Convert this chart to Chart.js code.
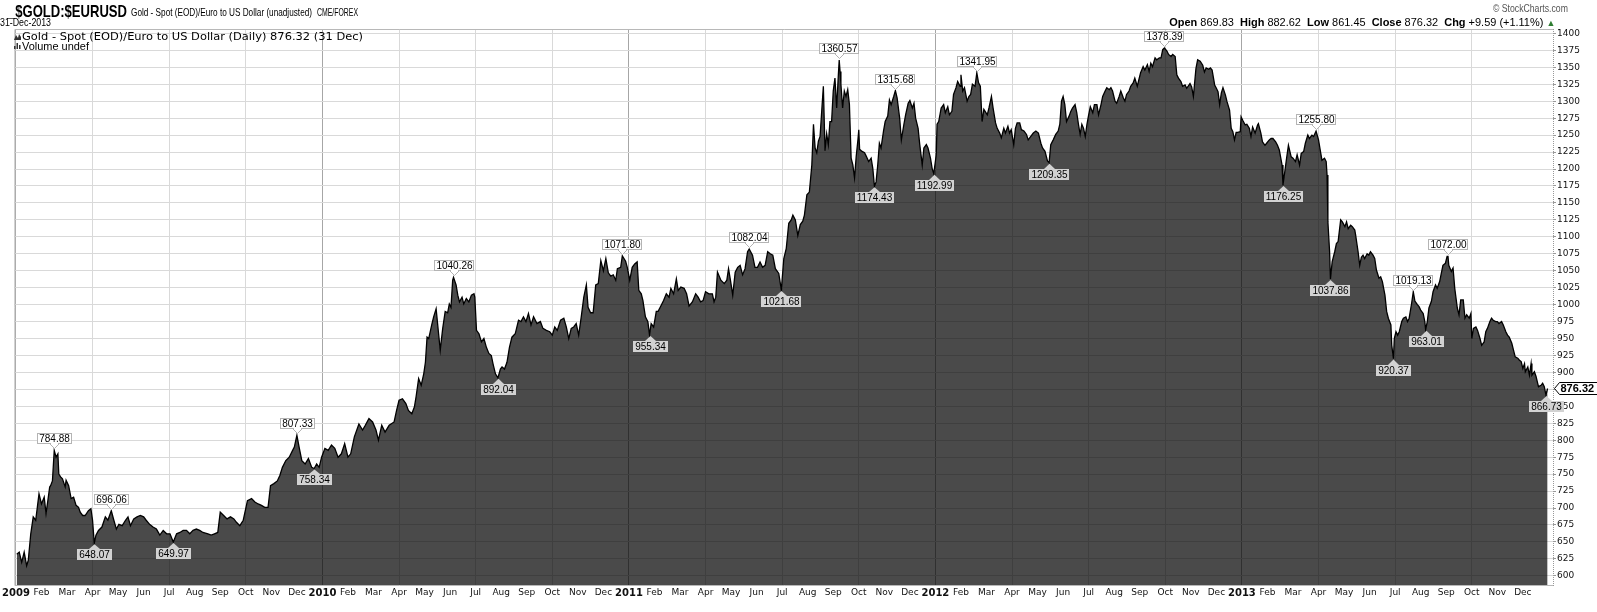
<!DOCTYPE html>
<html><head><meta charset="utf-8">
<script src="https://cdn.jsdelivr.net/npm/chart.js@4.4.0/dist/chart.umd.min.js"></script>
<style>
html,body{margin:0;padding:0;background:#fff;}
#wrap{position:relative;width:1597px;height:612px;overflow:hidden;background:#fff;}
#c{position:absolute;left:0;top:0;}
.t{position:absolute;white-space:nowrap;color:#000;font-family:"Liberation Sans",Arial,sans-serif;line-height:1;}
.n{font-family:"Liberation Sans Narrow","Liberation Sans",Arial,sans-serif;}
.l{transform-origin:left center;}
.r{transform-origin:right center;}
.t b{font-weight:bold;}
</style></head><body>
<div id="wrap">
<canvas id="c" width="1597" height="612"></canvas>
<div class="t l n" id="sym" style="left:8px;top:3px;font-size:17px;font-weight:bold;">_$GOLD:$EURUSD</div>
<div class="t l" id="desc" style="left:131px;top:7px;font-size:11px;">Gold - Spot (EOD)/Euro to US Dollar (unadjusted)</div>
<div class="t l" id="exch" style="left:317px;top:8px;font-size:10px;">CME/FOREX</div>
<div class="t l" id="date" style="left:0px;top:18px;font-size:10px;">31-Dec-2013</div>
<svg style="position:absolute;left:14px;top:33px" width="8" height="8"><path d="M0 7 L2 2 L4 5 L5 1 L7 4 L7 7 Z" fill="#333"/></svg>
<div class="t l" id="leg" style="left:22px;top:31px;font-size:10.5px;font-family:'DejaVu Sans',sans-serif;">Gold - Spot (EOD)/Euro to US Dollar (Daily) 876.32 (31 Dec)</div>
<svg style="position:absolute;left:14px;top:42px" width="8" height="8"><path d="M0 7 V4 H1.5 V7 Z M2.5 7 V1 H4 V7 Z M5 7 V3 H6.5 V7 Z" fill="#333"/></svg>
<div class="t l" id="vol" style="left:22px;top:41px;font-size:11px;">Volume undef</div>
<div class="t r" id="copy" style="right:29px;top:3px;font-size:11px;color:#555;">&copy; StockCharts.com</div>
<div class="t r" id="ohlc" style="right:42px;top:17px;font-size:11px;"><b>Open</b> 869.83&nbsp; <b>High</b> 882.62&nbsp; <b>Low</b> 861.45&nbsp; <b>Close</b> 876.32&nbsp; <b>Chg</b> +9.59 (+1.11%) <span style="color:#2e7d32;font-size:9px;">&#9650;</span></div>
</div>
<script>
// ---------- DATA ----------
const monthNames = ['Jan','Feb','Mar','Apr','May','Jun','Jul','Aug','Sep','Oct','Nov','Dec'];
const yTicks = [600,625,650,675,700,725,750,775,800,825,850,875,900,925,950,975,1000,1025,1050,1075,1100,1125,1150,1175,1200,1225,1250,1275,1300,1325,1350,1375,1400];

const dates2009 = ['01-02','01-05','01-08','01-11','01-14','01-16','01-19','01-22','01-25','01-29',
 '02-01','02-04','02-06','02-08','02-10','02-11','02-13','02-15','02-17','02-19','02-20','02-22','02-24','02-27','02-28',
 '03-03','03-06','03-09','03-12','03-15','03-17','03-20','03-23','03-27','03-30',
 '04-01','04-03','04-05','04-08','04-12','04-16','04-19','04-23','04-26','04-29',
 '05-02','05-06','05-10','05-13','05-16','05-20','05-24','05-28',
 '06-01','06-04','06-08','06-12','06-16','06-20','06-24','06-28',
 '07-02','07-06','07-10','07-14','07-18','07-22','07-26','07-30',
 '08-03','08-07','08-11','08-17','08-21','08-25','08-29',
 '09-01','09-05','09-09','09-13','09-17','09-20','09-24','09-28',
 '10-03','10-08','10-12','10-16','10-20','10-24','10-28','10-31',
 '11-04','11-08','11-11','11-14','11-18','11-22','11-26','11-28',
 '12-01','12-04','12-07','12-11','12-15','12-19','12-22','12-25','12-28','12-31'];
const values2009 = [632,635,620,635,615,623,662,687,682,721,
 706,716,692,711,731,733,740,784.88,775,780,750,746,743,731,741,
 733,714,716,704,701,694,689,689,696,699,
 682,648.07,660,667,672,687,682,696.06,682,669,
 676,674,682,687,674,684,687,689,
 687,682,676,672,669,660,667,662,
 662,649.97,662,664,667,667,662,667,
 669,667,664,662,660,662,664,
 694,689,684,687,684,679,674,682,
 711,714,709,706,704,701,701,733,
 736,740,748,760,770,775,785,790,
 807.33,788,770,765,773,760,758.34,765,760,775];

const dates2010 = ['01-04','01-08','01-12','01-16','01-20','01-24','01-28',
 '02-01','02-04','02-08','02-13','02-17','02-20','02-24','02-28',
 '03-04','03-07','03-11','03-15','03-20','03-26','03-29',
 '04-01','04-05','04-09','04-12','04-16','04-19','04-21','04-24','04-27','04-30',
 '05-02','05-04','05-06','05-10','05-12','05-15','05-18','05-20','05-23','05-26','05-29','05-31',
 '06-02','06-04','06-05','06-08','06-10','06-12','06-15','06-17','06-20','06-23','06-26','06-29','06-30',
 '07-02','07-05','07-08','07-11','07-14','07-17','07-20','07-22','07-25','07-28','07-31',
 '08-02','08-05','08-08','08-11','08-14','08-18','08-22','08-25','08-28','08-31',
 '09-03','09-06','09-09','09-13','09-17','09-20','09-24','09-28',
 '10-01','10-04','10-07','10-11','10-15','10-18','10-21','10-24','10-27','10-30',
 '11-02','11-05','11-08','11-11','11-13','11-16','11-19','11-22','11-25','11-28',
 '12-01','12-04','12-07','12-10','12-13','12-16','12-18','12-22','12-24','12-28','12-30'];
const values2010 = [788,785,793,788,775,780,795,
 775,780,805,824,815,822,832,827,
 815,800,822,812,822,827,844,
 859,861,854,844,839,849,864,891,881,898,
 915,952,950,972,982,994,957,933,965,990,988,1001,
 996,1036,1040.26,1029,1014,1004,1011,1001,1009,1004,1014,1016,1011,
 962,957,945,950,937,928,925,913,898,892.04,905,
 908,905,915,937,952,957,977,975,982,975,
 987,970,982,972,975,965,962,960,
 955,967,962,977,980,967,950,965,967,972,
 955,982,1011,1029,996,988,988,1029,1031,1065,
 1050,1068,1047,1042,1044,1036,1053,1055,1071.80,1064,1055];

const dates2011 = ['01-02','01-05','01-08','01-11','01-13','01-16','01-18','01-21','01-24','01-26','01-28','01-31',
 '02-03','02-05','02-08','02-11','02-14','02-17','02-19','02-22','02-25','02-27',
 '03-02','03-06','03-09','03-12','03-16','03-20','03-23','03-26','03-29',
 '04-01','04-05','04-09','04-11','04-13','04-15','04-19','04-23','04-26','04-28','04-30',
 '05-03','05-06','05-09','05-12','05-15','05-18','05-21','05-23','05-27','05-30',
 '06-02','06-05','06-08','06-11','06-14','06-17','06-20','06-23','06-27','06-30',
 '07-03','07-06','07-09','07-12','07-14','07-17','07-20','07-23','07-26','07-28','07-31',
 '08-03','08-06','08-08','08-10','08-12','08-14','08-16','08-18','08-20','08-22','08-24','08-26','08-28','08-30',
 '09-01','09-03','09-05','09-07','09-08','09-09','09-10','09-12','09-14','09-16','09-18','09-20','09-22','09-24','09-26','09-28','09-30',
 '10-01','10-02','10-05','10-08','10-10','10-13','10-16','10-18','10-20','10-22','10-24','10-26','10-28','10-31',
 '11-02','11-05','11-07','11-09','11-12','11-14','11-16','11-19','11-21','11-24','11-26','11-29',
 '12-01','12-04','12-06','12-08','12-11','12-13','12-16','12-18','12-21','12-23','12-26','12-28','12-30'];
const values2011 = [1036,1055,1060,1063,1021,1016,1006,982,975,955.34,972,967,
 990,990,998,1006,1016,1011,1024,1016,1038,1021,
 1026,1024,1016,998,1004,1016,1011,1004,1006,
 1019,1016,1016,1004,1011,1048,1036,1031,1036,1053,1038,
 1014,1048,1055,1058,1044,1053,1078,1082.04,1073,1055,
 1055,1063,1055,1058,1078,1075,1073,1053,1046,1021.68,
 1068,1083,1120,1125,1132,1125,1102,1118,1123,1132,1162,
 1166,1206,1266,1231,1224,1241,1248,1285,1322,1227,1252,1236,1270,1270,
 1315,1334,1290,1339,1360.57,1344,1325,1290,1315,1307,1317,1295,1216,1206,1187,1219,1243,
 1258,1229,1226,1224,1219,1211,1216,1201,1174.43,1181,1206,1238,1231,1256,
 1270,1278,1302,1295,1307,1315.68,1305,1275,1243,1266,1280,1297,
 1301,1290,1297,1275,1260,1236,1206,1231,1236,1231,1216,1201,1192.99];

const dates2012 = ['01-02','01-03','01-05','01-08','01-11','01-13','01-16','01-18','01-21','01-23','01-26','01-28','01-31',
 '02-01','02-03','02-05','02-08','02-10','02-12','02-14','02-17','02-19','02-21','02-23','02-25','02-27',
 '03-02','03-04','03-07','03-09','03-12','03-14','03-17','03-19','03-22','03-24','03-27','03-29','03-31',
 '04-03','04-05','04-07','04-10','04-12','04-15','04-18','04-20','04-23','04-26','04-29',
 '05-02','05-05','05-07','05-10','05-13','05-15','05-17','05-20','05-23','05-26','05-28','05-30',
 '06-01','06-03','06-05','06-08','06-10','06-12','06-15','06-17','06-19','06-21','06-23','06-25','06-27','06-29',
 '07-01','07-03','07-06','07-08','07-11','07-13','07-16','07-18','07-21','07-23','07-26','07-28','07-30',
 '08-02','08-04','08-07','08-09','08-12','08-14','08-16','08-19','08-21','08-24','08-26','08-29','08-31',
 '09-02','09-05','09-07','09-10','09-12','09-14','09-16','09-19','09-21','09-24','09-26','09-28','09-30',
 '10-03','10-05','10-08','10-10','10-13','10-15','10-17','10-20','10-22','10-25','10-27','10-31',
 '11-02','11-04','11-07','11-09','11-12','11-15','11-17','11-19','11-22','11-24','11-26','11-29',
 '12-01','12-03','12-05','12-07','12-09','12-12','12-14','12-17','12-19','12-21','12-23','12-25','12-27','12-30','12-31'];
const values2012 = [1221,1266,1270,1290,1295,1283,1292,1280,1285,1310,1320,1329,1322,
 1339,1315,1320,1300,1307,1310,1325,1322,1341.95,1327,1322,1270,1288,
 1280,1290,1307,1290,1268,1260,1253,1246,1260,1253,1263,1253,1258,
 1236,1260,1268,1268,1258,1256,1251,1243,1248,1253,1256,
 1253,1238,1231,1226,1212,1209.35,1236,1243,1251,1256,1266,1300,
 1307,1295,1270,1278,1285,1290,1295,1283,1266,1251,1266,1260,1248,1266,
 1280,1292,1283,1295,1295,1280,1295,1307,1315,1320,1317,1320,1315,
 1300,1297,1307,1315,1305,1300,1310,1315,1322,1327,1334,1322,1332,
 1342,1351,1346,1354,1344,1356,1351,1364,1361,1364,1364,1376,1378.39,
 1374,1369,1366,1369,1366,1339,1334,1329,1322,1324,1319,1326,
 1321,1307,1348,1361,1359,1353,1343,1349,1347,1349,1346,1324,
 1319,1314,1295,1312,1320,1309,1299,1287,1260,1255,1243,1254,1254,1255,1277];

const dates2013 = ['01-02','01-05','01-07','01-10','01-12','01-14','01-17','01-20','01-21','01-24','01-26','01-29','01-31',
 '02-03','02-05','02-07','02-10','02-12','02-14','02-17','02-18','02-20','02-22','02-24','02-27',
 '03-01','03-04','03-06','03-09','03-11','03-14','03-16','03-19','03-21','03-24','03-26','03-29',
 '04-01','04-03','04-05','04-08','04-10','04-11','04-12','04-14','04-15','04-17','04-20','04-22','04-24','04-27','04-29',
 '05-02','05-04','05-06','05-09','05-11','05-14','05-15','05-18','05-20','05-22','05-24','05-26','05-29','05-31',
 '06-02','06-05','06-07','06-09','06-12','06-14','06-16','06-19','06-21','06-23','06-26','06-27','06-29','06-30',
 '07-02','07-04','07-06','07-09','07-11','07-14','07-16','07-18','07-21','07-23','07-25','07-28','07-30',
 '08-01','08-04','08-06','08-07','08-09','08-11','08-14','08-16','08-19','08-21','08-24','08-26','08-28','08-31',
 '09-02','09-03','09-04','09-07','09-09','09-11','09-14','09-16','09-18','09-21','09-23','09-25','09-28','09-30',
 '10-01','10-03','10-06','10-08','10-11','10-13','10-16','10-18','10-20','10-23','10-25','10-27','10-30',
 '11-01','11-03','11-06','11-08','11-11','11-13','11-15','11-18','11-20','11-22','11-25','11-27','11-29',
 '12-01','12-03','12-04','12-07','12-09','12-11','12-12','12-15','12-17','12-19','12-20','12-23','12-25','12-27','12-29','12-31'];
const values2013 = [1272,1265,1266,1260,1248,1262,1253,1265,1267,1253,1240,1235,1238,
 1243,1245,1245,1240,1235,1228,1206,1176.25,1196,1216,1235,1218,
 1216,1211,1221,1206,1223,1226,1238,1250,1245,1250,1248,1255.80,
 1243,1228,1213,1216,1211,1191,1122,1078,1037.86,1063,1078,1090,1093,1125,1122,
 1115,1122,1112,1117,1115,1110,1103,1078,1058,1070,1073,1068,1075,1073,
 1078,1073,1068,1051,1039,1041,1034,1014,990,980,970,940,920.37,950,
 960,955,960,975,980,982,975,980,1002,1019.13,1005,1000,997,
 992,987,975,963.01,975,995,1005,1019,1029,1024,1034,1046,1058,1061,
 1071,1072.00,1058,1049,1054,1024,995,985,1007,1007,980,985,980,987,
 950,965,967,962,950,940,945,960,965,975,980,977,975,
 975,972,975,970,960,955,952,943,933,923,921,918,916,
 906,913,901,908,896,913,896,901,894,884,879,881,884,879,866.73,876.32];

// labelled highs and lows
const peakDates   = ['2009-02-15','2009-04-23','2009-12-01','2010-06-05','2010-12-24','2011-05-23','2011-09-08','2011-11-14','2012-02-19','2012-09-30','2013-03-29','2013-07-23','2013-09-03'];
const peakValues  = [784.88,696.06,807.33,1040.26,1071.80,1082.04,1360.57,1315.68,1341.95,1378.39,1255.80,1019.13,1072.00];
const troughDates = ['2009-04-03','2009-07-06','2009-12-22','2010-07-28','2011-01-26','2011-06-30','2011-10-20','2011-12-30','2012-05-15','2013-02-18','2013-04-15','2013-06-29','2013-08-07','2013-12-29'];
const troughValues= [648.07,649.97,758.34,892.04,955.34,1021.68,1174.43,1192.99,1209.35,1176.25,1037.86,920.37,963.01,866.73];

// ---------- build ----------
function monthPos(iso){
  const p = iso.split('-').map(Number);
  const dim = new Date(p[0], p[1], 0).getDate();
  return (p[0]-2009)*12 + (p[1]-1) + (p[2]-1)/dim;
}
const years = [[2009,dates2009,values2009],[2010,dates2010,values2010],[2011,dates2011,values2011],[2012,dates2012,values2012],[2013,dates2013,values2013]];
const points = [];
years.forEach(([yr, ds, vs]) => ds.forEach((md, i) => points.push({x: monthPos(yr + '-' + md), y: vs[i]})));

const FONT = "'DejaVu Sans', sans-serif";

const chrome = {
  id: 'chrome',
  beforeDraw(chart){
    const c = chart.ctx; c.save(); c.fillStyle = '#fff'; c.fillRect(0,0,chart.width,chart.height); c.restore();
  },
  afterDatasetsDraw(chart){
    const c = chart.ctx, a = chart.chartArea, xs = chart.scales.x, ys = chart.scales.y;
    c.save();
    // plot frame
    c.strokeStyle = '#b8b8b8'; c.lineWidth = 1;
    c.beginPath();
    c.moveTo(a.right + 0.5, a.top + 0.5); c.lineTo(a.left + 0.5, a.top + 0.5);
    c.lineTo(a.left + 0.5, a.bottom + 0.5); c.lineTo(a.right + 0.5, a.bottom + 0.5);
    c.stroke();
    c.setLineDash([1,1]); c.strokeStyle = '#999';
    c.beginPath(); c.moveTo(a.right + 0.5, a.top); c.lineTo(a.right + 0.5, a.bottom + 1); c.stroke();
    c.setLineDash([]);

    c.font = "10px 'Liberation Sans', Arial, sans-serif";
    c.textAlign = 'center'; c.textBaseline = 'middle';
    const H = 11;
    peakDates.forEach((d, i) => {
      const v = peakValues[i], t = v.toFixed(2);
      const x = Math.round(xs.getPixelForValue(monthPos(d))), y = ys.getPixelForValue(v);
      const w = Math.round(c.measureText(t).width) + 4;
      const by = Math.round(y - 6), bx = Math.round(x - w/2);
      c.fillStyle = '#fff'; c.strokeStyle = '#b4b4b4';
      c.beginPath(); c.moveTo(x - 4.5, by - 0.5); c.lineTo(x + 0.5, by + 4.5); c.lineTo(x + 5.5, by - 0.5); c.closePath();
      c.fill(); c.stroke();
      c.fillRect(bx, by - H, w, H); c.strokeRect(bx + 0.5, by - H + 0.5, w - 1, H - 1);
      c.fillStyle = '#fff'; c.fillRect(x - 3, by - 1, 7, 2);
      c.fillStyle = '#000'; c.fillText(t, x + 0.5, by - H/2 + 0.5);
    });
    troughDates.forEach((d, i) => {
      const v = troughValues[i], t = v.toFixed(2);
      const x = Math.round(xs.getPixelForValue(monthPos(d))), y = ys.getPixelForValue(v);
      const w = Math.round(c.measureText(t).width) + 4;
      const ty = Math.round(y + 6), bx = Math.round(x - w/2);
      c.fillStyle = '#d2d2d2';
      c.beginPath(); c.moveTo(x - 5, ty); c.lineTo(x + 0.5, y + 1); c.lineTo(x + 6, ty); c.closePath(); c.fill();
      c.fillRect(bx, ty, w, H);
      c.fillStyle = '#000'; c.fillText(t, x + 0.5, ty + H/2 + 0.5);
    });

    // last value marker on the right axis
    const last = points[points.length - 1].y;
    const ly = Math.round(ys.getPixelForValue(last)) + 0.5, lx = a.right + 1.5;
    c.font = "bold 11px 'Liberation Sans', Arial, sans-serif";
    const lw = c.measureText(last.toFixed(2)).width + 5;
    c.fillStyle = '#fff'; c.strokeStyle = '#000'; c.lineWidth = 1;
    c.beginPath(); c.moveTo(lx, ly); c.lineTo(lx + 5, ly - 6); c.lineTo(lx + 5 + lw, ly - 6);
    c.lineTo(lx + 5 + lw, ly + 6); c.lineTo(lx + 5, ly + 6); c.closePath(); c.fill(); c.stroke();
    c.fillStyle = '#000'; c.textAlign = 'left'; c.fillText(last.toFixed(2), lx + 6, ly + 0.5);
    c.restore();
  }
};

const chart = new Chart(document.getElementById('c'), {
  type: 'line',
  data: { datasets: [{
    data: points,
    borderColor: '#000', borderWidth: 1.3,
    backgroundColor: 'rgba(0,0,0,0.71)',
    fill: 'start', pointRadius: 0, tension: 0
  }]},
  options: {
    responsive: false, animation: false, devicePixelRatio: 1,
    layout: { padding: { left: 13, top: 29, right: 0, bottom: 0 } },
    plugins: { legend: { display: false }, tooltip: { enabled: false } },
    scales: {
      x: {
        type: 'linear', min: -0.06, max: 60.18,
        afterBuildTicks(s){ const t = []; for (let m = 0; m < 60; m++) t.push({value: m}); s.ticks = t; },
        afterFit(s){ s.height = 27; },
        border: { display: false },
        grid: {
          drawTicks: false, lineWidth: 1,
          color(ctx){ const v = ctx.tick ? ctx.tick.value : null; if (v === null) return 'rgba(0,0,0,0)';
            if (v % 12 === 0) return '#a6a6a6'; if (v % 3 === 0) return '#d9d9d9'; return 'rgba(0,0,0,0)'; }
        },
        ticks: {
          autoSkip: false, maxRotation: 0, padding: 2, color: '#111',
          callback(v){ return v % 12 === 0 ? String(2009 + v/12) : monthNames[v % 12]; },
          font(ctx){ const v = ctx.tick ? ctx.tick.value : 1;
            return v % 12 === 0 ? {family: FONT, size: 10, weight: 'bold'} : {family: FONT, size: 9}; }
        }
      },
      y: {
        position: 'right', min: 586.5, max: 1406.5,
        afterBuildTicks(s){ s.ticks = yTicks.map(v => ({value: v})); },
        afterFit(s){ s.width = 44; },
        border: { display: false },
        grid: { color: '#d9d9d9', lineWidth: 1, drawTicks: true, tickLength: 3, tickColor: '#9a9a9a' },
        ticks: { padding: 1, color: '#111', font: {family: FONT, size: 9}, callback(v){ return String(v); } }
      }
    }
  },
  plugins: [chrome]
});

// header text widths measured on the reference
function fit(id, w){
  const el = document.getElementById(id);
  el.style.transform = 'none';
  const r = el.getBoundingClientRect().width;
  if (r > 0) el.style.transform = 'scaleX(' + (w / r) + ')';
}
function fitAll(){
  fit('sym', 119); fit('desc', 181); fit('exch', 41); fit('date', 51);
  fit('leg', 341); fit('vol', 67); fit('copy', 75); fit('ohlc', 386);
}
fitAll();
if (document.fonts && document.fonts.ready) document.fonts.ready.then(() => { fitAll(); chart.draw(); });
</script>
</body></html>
